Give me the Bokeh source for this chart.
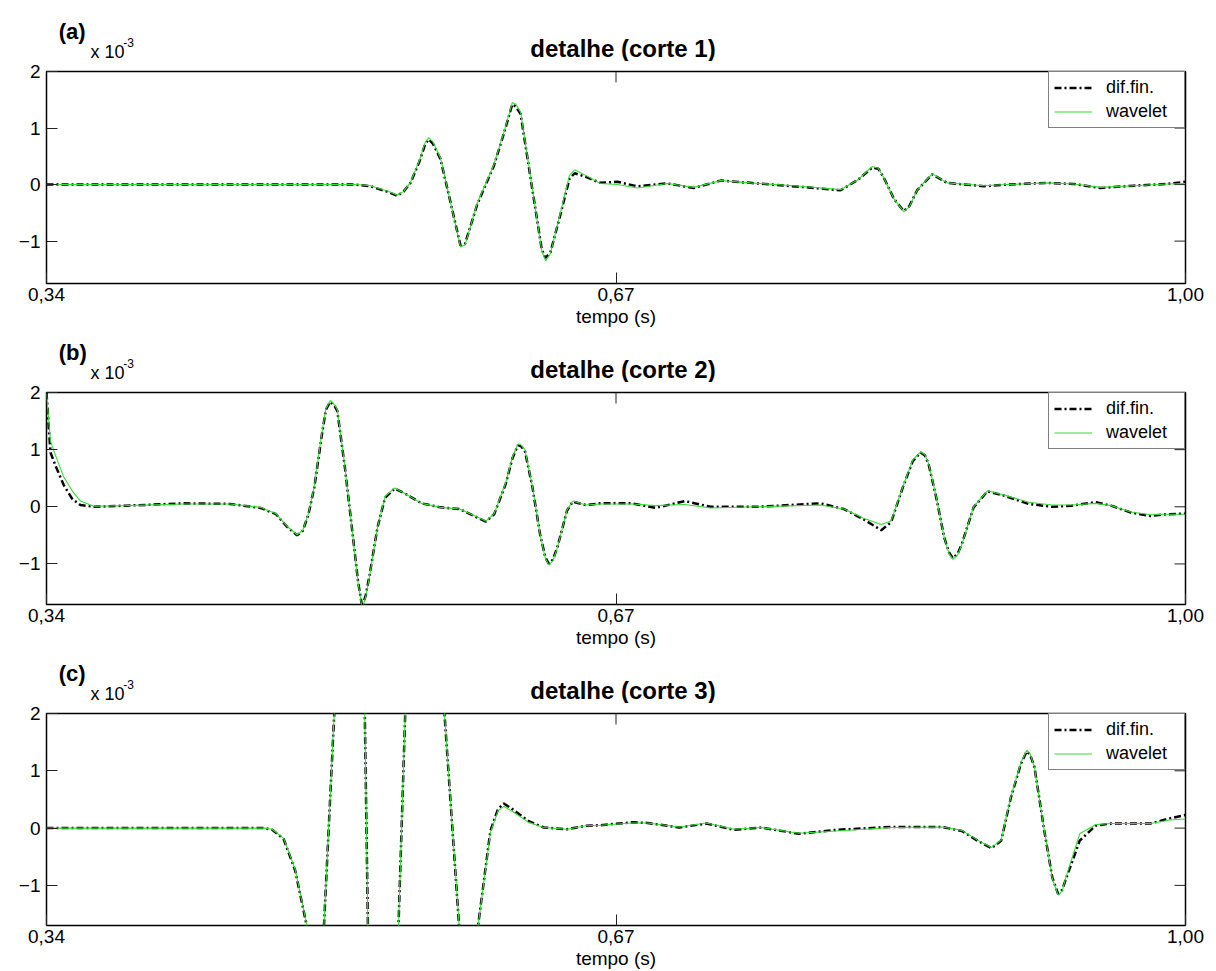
from bokeh.plotting import figure
from bokeh.models import FixedTicker, Legend, LegendItem, Range1d
from bokeh.core.properties import value
from bokeh.layouts import column
from bokeh.embed import file_html
from bokeh.resources import INLINE

# ---- data: time (s) and detail coefficients (x 10^-3) for three cuts ----
t_corte1 = [0.3400, 0.5191, 0.5277, 0.5380, 0.5432, 0.5470, 0.5509, 0.5560, 0.5595, 0.5615,
            0.5640, 0.5683, 0.5740, 0.5799, 0.5825, 0.5896, 0.5992, 0.6050, 0.6099, 0.6120,
            0.6147, 0.6214, 0.6270, 0.6292, 0.6320, 0.6378, 0.6430, 0.6460, 0.6513, 0.6610,
            0.6707, 0.6823, 0.6997, 0.7151, 0.7306, 0.7479, 0.7769, 0.8001, 0.8100, 0.8185,
            0.8220, 0.8252, 0.8310, 0.8368, 0.8400, 0.8445, 0.8532, 0.8619, 0.8831, 0.8967,
            0.9199, 0.9353, 0.9508, 0.9701, 0.9894, 1.0000]
dif_corte1 = [0.00, 0.00, -0.03, -0.13, -0.20, -0.12, 0.03, 0.40, 0.72, 0.80,
              0.72, 0.45, -0.30, -1.08, -1.05, -0.35, 0.33, 0.90, 1.42, 1.38,
              1.25, -0.06, -1.15, -1.30, -1.20, -0.53, 0.10, 0.20, 0.15, 0.03,
              0.05, -0.03, 0.02, -0.06, 0.07, 0.03, -0.04, -0.10, 0.08, 0.30,
              0.28, 0.12, -0.25, -0.47, -0.38, -0.10, 0.18, 0.03, -0.03, 0.00,
              0.03, 0.01, -0.06, -0.02, 0.01, 0.05]
wav_corte1 = [0.00, 0.00, -0.02, -0.12, -0.19, -0.12, 0.04, 0.42, 0.75, 0.83,
              0.75, 0.47, -0.30, -1.10, -1.07, -0.33, 0.35, 0.92, 1.45, 1.42,
              1.28, -0.04, -1.17, -1.35, -1.22, -0.50, 0.16, 0.26, 0.18, 0.02,
              0.00, -0.06, 0.02, -0.05, 0.07, 0.03, -0.03, -0.09, 0.08, 0.32,
              0.29, 0.12, -0.25, -0.48, -0.39, -0.10, 0.19, 0.03, -0.02, 0.00,
              0.03, 0.01, -0.05, -0.02, 0.01, 0.02]

t_corte2 = [0.3400, 0.3423, 0.3452, 0.3500, 0.3549, 0.3597, 0.3674, 0.3864, 0.4198, 0.4464,
            0.4640, 0.4730, 0.4797, 0.4852, 0.4885, 0.4918, 0.4952, 0.4996, 0.5019, 0.5045,
            0.5070, 0.5085, 0.5129, 0.5174, 0.5205, 0.5229, 0.5250, 0.5273, 0.5318, 0.5362,
            0.5418, 0.5484, 0.5573, 0.5683, 0.5794, 0.5883, 0.5946, 0.5994, 0.6061, 0.6100,
            0.6132, 0.6150, 0.6172, 0.6216, 0.6260, 0.6290, 0.6311, 0.6335, 0.6360, 0.6416,
            0.6449, 0.6526, 0.6610, 0.6792, 0.6929, 0.7099, 0.7248, 0.7520, 0.7885, 0.8021,
            0.8135, 0.8237, 0.8294, 0.8362, 0.8420, 0.8465, 0.8490, 0.8511, 0.8556, 0.8602,
            0.8630, 0.8652, 0.8680, 0.8704, 0.8772, 0.8852, 0.8955, 0.9091, 0.9228, 0.9341,
            0.9478, 0.9569, 0.9683, 0.9797, 0.9888, 1.0000]
dif_corte2 = [2.00, 0.95, 0.72, 0.38, 0.14, 0.03, 0.00, 0.02, 0.06, 0.05,
              -0.02, -0.13, -0.36, -0.50, -0.42, -0.13, 0.34, 1.27, 1.70, 1.84,
              1.76, 1.68, 0.69, -0.48, -1.30, -1.75, -1.55, -1.18, -0.36, 0.16,
              0.32, 0.22, 0.06, -0.01, -0.04, -0.17, -0.26, -0.13, 0.40, 0.85,
              1.08, 1.06, 0.98, 0.34, -0.48, -0.88, -1.00, -0.92, -0.71, -0.07,
              0.09, 0.03, 0.06, 0.06, -0.02, 0.10, 0.00, 0.00, 0.06, -0.04,
              -0.22, -0.41, -0.27, 0.34, 0.80, 0.95, 0.90, 0.75, 0.16, -0.54,
              -0.80, -0.90, -0.82, -0.65, -0.01, 0.27, 0.19, 0.05, 0.00, 0.02,
              0.08, 0.02, -0.10, -0.16, -0.13, -0.12]
wav_corte2 = [1.98, 1.15, 0.90, 0.52, 0.28, 0.10, 0.01, 0.02, 0.05, 0.05,
              -0.01, -0.12, -0.35, -0.49, -0.41, -0.12, 0.36, 1.30, 1.72, 1.86,
              1.78, 1.70, 0.70, -0.48, -1.32, -1.78, -1.57, -1.20, -0.36, 0.18,
              0.33, 0.22, 0.06, -0.01, -0.04, -0.16, -0.25, -0.12, 0.42, 0.87,
              1.10, 1.08, 1.00, 0.35, -0.48, -0.90, -1.02, -0.94, -0.72, -0.06,
              0.10, 0.03, 0.05, 0.05, 0.02, 0.04, -0.02, 0.00, 0.03, -0.04,
              -0.20, -0.31, -0.25, 0.35, 0.82, 0.96, 0.91, 0.76, 0.17, -0.54,
              -0.82, -0.92, -0.84, -0.66, 0.00, 0.28, 0.20, 0.08, 0.03, 0.03,
              0.06, 0.02, -0.09, -0.14, -0.13, -0.13]

t_corte3 = [0.3400, 0.4663, 0.4708, 0.4774, 0.4841, 0.4989, 0.5203, 0.5319, 0.5550, 0.5829,
            0.5972, 0.6016, 0.6050, 0.6105, 0.6194, 0.6282, 0.6416, 0.6526, 0.6610, 0.6792,
            0.6883, 0.7066, 0.7224, 0.7384, 0.7543, 0.7760, 0.7976, 0.8294, 0.8590, 0.8704,
            0.8795, 0.8875, 0.8932, 0.8988, 0.9046, 0.9080, 0.9100, 0.9125, 0.9182, 0.9228,
            0.9262, 0.9285, 0.9307, 0.9387, 0.9478, 0.9569, 0.9797, 0.9910, 1.0000]
dif_corte3 = [0.00, 0.00, -0.03, -0.19, -0.74, -2.87, 10.40, -13.20, 8.80, -3.37,
              -0.05, 0.33, 0.43, 0.32, 0.12, 0.01, -0.02, 0.04, 0.05, 0.10,
              0.09, 0.01, 0.08, -0.03, 0.01, -0.10, -0.03, 0.02, 0.02, -0.05,
              -0.22, -0.35, -0.22, 0.53, 1.12, 1.34, 1.28, 1.06, -0.05, -0.86,
              -1.15, -1.08, -0.89, -0.22, 0.04, 0.08, 0.08, 0.17, 0.23]
wav_corte3 = [0.00, 0.00, -0.02, -0.18, -0.72, -2.85, 10.40, -13.20, 8.80, -3.35,
              -0.08, 0.30, 0.38, 0.28, 0.10, 0.01, -0.02, 0.04, 0.05, 0.09,
              0.09, 0.02, 0.09, -0.02, 0.01, -0.09, -0.05, 0.01, 0.02, -0.04,
              -0.21, -0.34, -0.21, 0.55, 1.14, 1.36, 1.30, 1.05, -0.04, -0.88,
              -1.17, -1.10, -0.86, -0.10, 0.06, 0.08, 0.08, 0.14, 0.16]

x_ticks = [0.34, 0.67, 1.00]
x_tick_labels = ["0,34", "0,67", "1,00"]
y_ticks = [-1, 0, 1, 2]
series_labels = ["dif.fin.", "wavelet"]
x_label = "tempo (s)"
y_exponent = "-3"

FONT = "Liberation Sans"
GREEN = "#33dd33"
W = 1216
LEFT, RIGHT = 46, 31
FRAME_W = W - LEFT - RIGHT
FRAME_H = 212
TOP = 10
TICK = 11


def header(h, letter, title):
    """Strip above each panel holding the panel letter, title and axis multiplier."""
    hp = figure(width=W, height=h, x_range=Range1d(0, W), y_range=Range1d(h, 0),
                output_backend="svg", toolbar_location=None, title=None,
                x_axis_type=None, y_axis_type=None, min_border=0,
                outline_line_color=None, background_fill_color="white",
                border_fill_color="white")
    hp.grid.visible = False
    hp.text(x=[13], y=[h - 30], text=[letter], text_font=value(FONT),
            text_font_size="22px", text_font_style="bold", text_color="black",
            text_align="left", text_baseline="middle")
    hp.text(x=[LEFT + FRAME_W / 2], y=[h - 13], text=[title], text_font=value(FONT),
            text_font_size="24px", text_font_style="bold", text_color="black",
            text_align="center", text_baseline="middle")
    hp.text(x=[LEFT + 1], y=[h - 10], text=["x 10"], text_font=value(FONT),
            text_font_size="18px", text_color="black",
            text_align="left", text_baseline="middle")
    hp.text(x=[LEFT + 36], y=[h - 19], text=[y_exponent], text_font=value(FONT),
            text_font_size="12px", text_color="black",
            text_align="left", text_baseline="middle")
    return hp


def panel(t, dif, wav, bottom, ymin):
    p = figure(width=W, height=TOP + FRAME_H + bottom,
               x_range=Range1d(0.34, 1.0), y_range=Range1d(ymin, 2.0),
               output_backend="svg", toolbar_location=None, title=None,
               min_border_left=LEFT, min_border_right=RIGHT,
               min_border_top=TOP, min_border_bottom=bottom,
               background_fill_color="white", border_fill_color="white")
    p.xgrid.visible = False
    p.ygrid.visible = False
    p.outline_line_color = "black"
    p.outline_line_width = 1.5
    p.outline_line_alpha = 1.0

    xa = p.below[0]
    ya = p.left[0]
    xa.ticker = FixedTicker(ticks=x_ticks)
    xa.major_label_overrides = dict(zip(x_ticks, x_tick_labels))
    xa.axis_label = x_label
    xa.axis_label_text_font = FONT
    xa.axis_label_text_font_size = "19px"
    xa.axis_label_text_font_style = "normal"
    xa.axis_label_text_color = "black"
    xa.axis_label_standoff = 2
    xa.major_label_standoff = 4
    ya.ticker = FixedTicker(ticks=y_ticks)
    ya.major_label_standoff = 6
    for ax in (xa, ya):
        ax.axis_line_color = None
        ax.major_tick_in = TICK
        ax.major_tick_out = 0
        ax.major_tick_line_color = "#222222"
        ax.major_tick_line_width = 1
        ax.minor_tick_line_color = None
        ax.major_label_text_font = FONT
        ax.major_label_text_font_size = "19px"
        ax.major_label_text_color = "black"

    # mirrored inward ticks on the right and top edges of the box
    dx = TICK * (1.0 - 0.34) / FRAME_W
    dy = TICK * (2.0 - ymin) / FRAME_H
    ry = [v for v in y_ticks if v < 2]
    p.segment(x0=[1.0] * len(ry), y0=ry, x1=[1.0 - dx] * len(ry), y1=ry,
              line_color="#222222", line_width=1)
    tx = x_ticks[1:-1]
    p.segment(x0=tx, y0=[2.0] * len(tx), x1=tx, y1=[2.0 - dy] * len(tx),
              line_color="#222222", line_width=1)

    r_dif = p.line(t, dif, line_color="black", line_width=2.5, line_dash="7 3 2 3")
    r_wav = p.line(t, wav, line_color=GREEN, line_width=1.1)

    legend = Legend(items=[LegendItem(label=series_labels[0], renderers=[r_dif]),
                           LegendItem(label=series_labels[1], renderers=[r_wav])],
                    location="top_right", margin=0, padding=5, spacing=3,
                    glyph_width=38, glyph_height=21, label_height=21, label_width=73,
                    label_standoff=14, label_text_font=FONT, label_text_font_size="18px",
                    label_text_color="black", border_line_color="black",
                    border_line_width=1.5, background_fill_color="white",
                    background_fill_alpha=1.0)
    p.add_layout(legend)
    return p


h1 = header(61, "(a)", "detalhe (corte 1)")
p1 = panel(t_corte1, dif_corte1, wav_corte1, 50, -1.75)
h2 = header(49, "(b)", "detalhe (corte 2)")
p2 = panel(t_corte2, dif_corte2, wav_corte2, 50, -1.71)
h3 = header(49, "(c)", "detalhe (corte 3)")
p3 = panel(t_corte3, dif_corte3, wav_corte3, 46, -1.70)

layout = column(h1, p1, h2, p2, h3, p3, spacing=0)
open("out.html", "w").write(file_html(layout, INLINE))
